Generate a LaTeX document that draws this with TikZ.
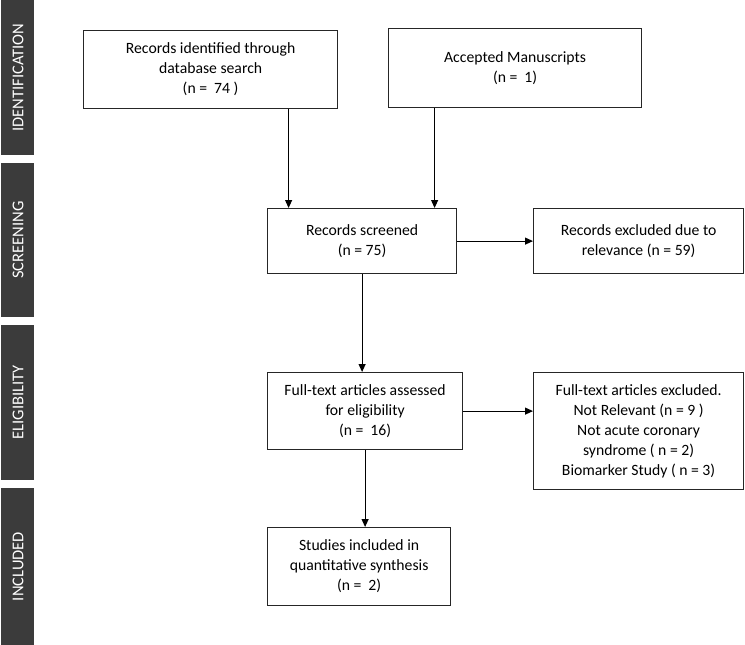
\documentclass[tikz,border=0pt]{standalone}
\usepackage{fontspec}
\setmainfont{Carlito}
\usetikzlibrary{arrows.meta}
\begin{document}
\begin{tikzpicture}[x=1pt,y=1pt,
  box/.style={draw=black!85,line width=1.2pt,fill=white,align=center,anchor=north west,
    inner sep=2pt,font=\fontsize{15.7}{20}\selectfont},
  bar/.style={fill=black!77,draw=none},
  bartext/.style={text=white,rotate=90,font=\fontsize{16.5}{18}\selectfont},
  arr/.style={line width=1.1pt,-{Triangle[length=8pt,width=7pt]}}]
\useasboundingbox (0,0) rectangle (745,-645);
% side bars
\fill[bar] (1,0) rectangle (34,-155);
\fill[bar] (1,-163) rectangle (34,-317);
\fill[bar] (1,-325) rectangle (34,-480);
\fill[bar] (1,-488) rectangle (34,-645);
\node[bartext] (tid) at (18,-77.5) {IDENTIFICATION};
\node[bartext] (tsc) at (18,-240) {SCREENING};
\node[bartext] (tel) at (18,-402.5) {ELIGIBILITY};
\node[bartext] (tin) at (18,-566.5) {INCLUDED};
% boxes
\node[box,minimum width=254pt,minimum height=78pt] (rec) at (83,-30)
  {Records identified through\\database search\\(n =~ 74 )};
\node[box,minimum width=253pt,minimum height=79pt] (acc) at (388,-28)
  {Accepted Manuscripts\\(n =~ 1)};
\node[box,minimum width=189pt,minimum height=65pt] (scr) at (267,-208)
  {Records screened\\(n = 75)};
\node[box,minimum width=210pt,minimum height=65pt] (ex1) at (533,-208)
  {Records excluded due to\\relevance (n = 59)};
\node[box,minimum width=195pt,minimum height=77pt] (ft) at (267,-372)
  {Full-text articles assessed\\for eligibility\\(n =~ 16)};
\node[box,minimum width=210pt,minimum height=117pt] (ex2) at (533,-372)
  {Full-text articles excluded.\\Not Relevant (n = 9 )\\Not acute coronary\\syndrome ( n = 2)\\Biomarker Study ( n = 3)};
\node[box,minimum width=183pt,minimum height=78pt] (inc) at (267,-527)
  {Studies included in\\quantitative synthesis\\(n =~ 2)};
% connectors
\draw[arr] ([xshift=78pt]rec.south) -- ([xshift=78pt]rec.south |- scr.north);
\draw[arr] ([xshift=-80.5pt]acc.south) -- ([xshift=-80.5pt]acc.south |- scr.north);
\draw[arr] (scr.east) -- (scr.east -| ex1.west);
\draw[arr] (scr.south) -- (scr.south |- ft.north);
\draw[arr] (ft.east) -- (ft.east -| ex2.west);
\draw[arr] (ft.south) -- (ft.south |- inc.north);
\end{tikzpicture}
\end{document}
